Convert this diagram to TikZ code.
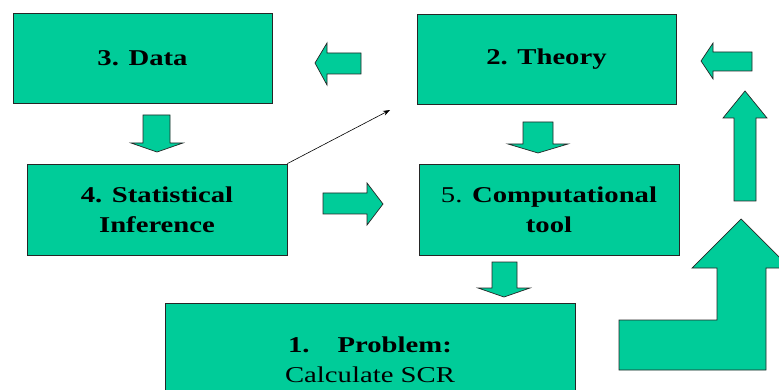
\documentclass[tikz,border=0pt]{standalone}
\usepackage{fontspec}
\setmainfont{Liberation Serif}
\usetikzlibrary{arrows.meta}
\definecolor{boxgreen}{RGB}{0,204,153}
\newcommand\wideln[1]{\scalebox{1.27}[1]{#1}}
\tikzset{
  box/.style={draw=black!85, line width=0.8pt, fill=boxgreen, align=center,
    font=\fontsize{22.6}{30}\selectfont, inner sep=0pt},
  blockarrow/.style={draw=black!85, line width=0.7pt, fill=boxgreen, line join=miter}
}
\begin{document}
\begin{tikzpicture}[x=1pt,y=-1pt]
\useasboundingbox (0,0) rectangle (779,390);
\clip (0,0) rectangle (779,390);
% boxes
\node[box, minimum width=259pt, minimum height=90pt] (data) at (142.5,58) {\wideln{\bfseries 3. Data}};
\node[box, minimum width=259pt, minimum height=90pt] (theory) at (546.5,59) {\wideln{\bfseries 2. Theory}};
\node[box, minimum width=260pt, minimum height=91pt] (stat) at (157,209.5) {\wideln{\bfseries 4. Statistical}\\\wideln{\bfseries Inference}};
\node[box, minimum width=260pt, minimum height=91pt] (comp) at (549,209.5) {\wideln{5. \bfseries Computational}\\\wideln{\bfseries tool}};
\node[box, minimum width=410pt, minimum height=113pt] (prob) at (370,359.5) {\wideln{\bfseries 1.\hspace{22pt}Problem:}\\\wideln{Calculate SCR}};
% thin arrow
\coordinate (thinend) at (390,110);
\draw[line width=0.6pt, -{Stealth[length=7pt,width=5pt]}] (stat.north east) -- (thinend);
% block arrows
% down under Data
\draw[blockarrow] (143,115) -- (170,115) -- (170,143) -- (183,143) -- (157,152) -- (131,143) -- (143,143) -- cycle;
% left between Data and Theory
\draw[blockarrow] (361,53) -- (361,74) -- (327,74) -- (327,85) -- (315,63) -- (327,43) -- (327,53) -- cycle;
% right between Stat and Comp
\draw[blockarrow] (323,193) -- (367,193) -- (367,183) -- (383,204) -- (367,225) -- (367,214) -- (323,214) -- cycle;
% down under Theory
\draw[blockarrow] (523,122) -- (553,122) -- (553,144) -- (568,144) -- (538,153) -- (508,144) -- (523,144) -- cycle;
% down under Comp
\draw[blockarrow] (492,262) -- (517,262) -- (517,288) -- (530,288) -- (504,297) -- (478,288) -- (492,288) -- cycle;
% top right left arrow
\draw[blockarrow] (752,52) -- (752,71) -- (713,71) -- (713,79) -- (701,61) -- (713,43) -- (713,52) -- cycle;
% up arrow right
\draw[blockarrow] (734,201) -- (734,118) -- (723,118) -- (745,91) -- (767,118) -- (756,118) -- (756,201) -- cycle;
% bent up arrow
\draw[blockarrow] (619,320) -- (717,320) -- (717,268) -- (692,268) -- (741,219) -- (790,268) -- (766,268) -- (766,370) -- (619,370) -- cycle;
\end{tikzpicture}
\end{document}
